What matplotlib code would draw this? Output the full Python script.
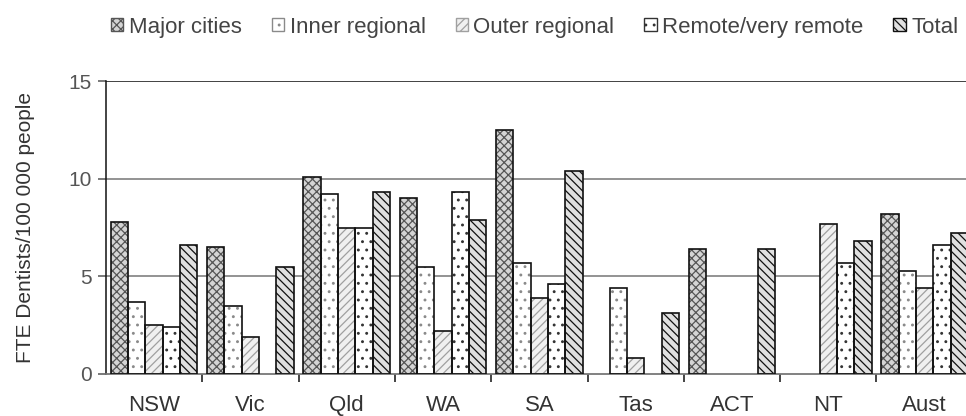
import numpy as np
import matplotlib
matplotlib.use("Agg")
import matplotlib.pyplot as plt
from matplotlib.patches import Patch

states = ["NSW", "Vic", "Qld", "WA", "SA", "Tas", "ACT", "NT", "Aust"]
series = ["Major cities", "Inner regional", "Outer regional", "Remote/very remote", "Total"]

major = [7.8, 6.5, 10.1, 9.0, 12.5, 0, 6.4, 0, 8.2]
inner = [3.7, 3.5, 9.2, 5.5, 5.7, 4.4, 0, 0, 5.3]
outer = [2.5, 1.9, 7.5, 2.2, 3.9, 0.8, 0, 7.7, 4.4]
remote = [2.4, 0, 7.5, 9.3, 4.6, 0, 0, 5.7, 6.6]
total = [6.6, 5.5, 9.3, 7.9, 10.4, 3.1, 6.4, 6.8, 7.2]

values = [major, inner, outer, remote, total]
faces = ["#d4d4d4", "white", "#f0f0f0", "white", "#e0e0e0"]
hatches = ["xxxx", "..", "////", "..", "\\\\\\\\"]
hatch_cols = ["#555555", "#8a8a8a", "#a0a0a0", "#333333", "#111111"]

plt.rcParams['font.family'] = ['Liberation Sans', 'DejaVu Sans']
plt.rcParams['hatch.linewidth'] = 0.9

fig = plt.figure(figsize=(9.66, 4.16), dpi=100)
ax = fig.add_axes([0.1097, 0.101, 0.8903, 0.704])

x = np.arange(len(states))
w = 0.18
for k in range(5):
    pos = x + (k - 2) * w
    h = np.array(values[k], dtype=float)
    h[h == 0] = np.nan   # no data -> no bar
    ax.bar(pos, h, w, color=faces[k], hatch=hatches[k],
           edgecolor=hatch_cols[k], linewidth=0, zorder=2)
    ax.bar(pos, h, w, fill=False, edgecolor="#111111",
           linewidth=1.2, zorder=3)

ax.set_xlim(-0.5, 8.43)
ax.set_ylim(0, 15)
ax.set_yticks([0, 5, 10, 15])
for yv in [5, 10]:
    ax.axhline(yv, color="#8a8a8a", lw=1.3, zorder=1)
ax.axhline(15, color="#333333", lw=1.3, zorder=1)

ax.spines['right'].set_visible(False)
ax.spines['top'].set_visible(False)
ax.spines['left'].set_color("#111111")
ax.spines['left'].set_linewidth(1.1)
ax.spines['bottom'].set_color("#777777")
ax.spines['bottom'].set_linewidth(1.3)

ax.set_xticks(x)
ax.set_xticklabels(states, fontsize=16, color="#333333")
ax.tick_params(axis='x', length=0, pad=15)
ax.set_xticks(np.arange(0.5, 8.5, 1), minor=True)
ax.tick_params(axis='x', which='minor', length=6, width=1.1, color="#111111")
ax.tick_params(axis='y', length=6, width=1.1, color="#555555", labelsize=15,
               labelcolor="#555555", pad=4)

fig.text(26 / 966, 0.454, "FTE Dentists/100 000 people", rotation=90,
         ha="center", va="center", fontsize=15, color="#333333")

handles = [Patch(facecolor=faces[k], hatch=hatches[k], edgecolor=hatch_cols[k])
           for k in range(5)]
fig.legend(handles, series, loc="center left", bbox_to_anchor=(0.115, 0.935),
           ncol=5, frameon=False, fontsize=16, handlelength=0.55, handleheight=0.55,
           handletextpad=0.25, columnspacing=1.35, labelcolor="#444444",
           borderaxespad=0, borderpad=0)

fig.savefig("out.png", dpi=100)
